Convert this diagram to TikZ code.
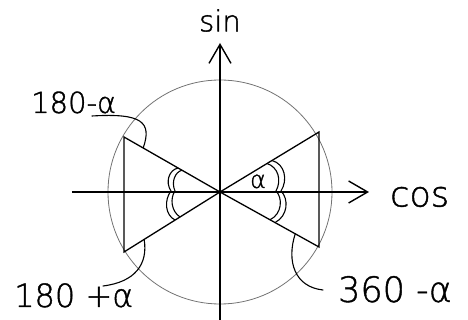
\documentclass[tikz,border=0pt]{standalone}
\usepackage{fontspec}
\setmainfont{DejaVu Sans ExtraLight}[FakeBold=1.2]
\usetikzlibrary{positioning,calc,arrows.meta}
\tikzset{
axisline/.style={line width=1.4pt,-{Straight Barb[length=19pt,width=22pt]}},
unitcircle/.style={draw=black!55,line width=0.8pt},
tri/.style={line width=1.3pt,line join=miter},
anglemark/.style={line width=1.1pt},
pointer/.style={line width=1.1pt,line cap=round},
biglbl/.style={inner sep=1pt,font=\fontsize{35}{37}\selectfont},
midlbl/.style={inner sep=1pt,font=\fontsize{29}{31}\selectfont},
smalllbl/.style={inner sep=1pt,font=\fontsize{24}{26}\selectfont}
}
\begin{document}
\begin{tikzpicture}[x=1pt,y=1pt]
\useasboundingbox (-220,-128) rectangle (248,192);
\coordinate (o) at (0,0);
\coordinate (w) at (-148,0);
\coordinate (e) at (149,0);
\coordinate (s) at (0,-128);
\coordinate (n) at (0,149);
\coordinate (ru) at (99,60);
\coordinate (rd) at (99,-55);
\coordinate (lu) at (-96,55);
\coordinate (ld) at (-96,-60);
\draw[unitcircle] (o) circle (112pt);
\draw[axisline] (w) -- (e);
\draw[axisline] (s) -- (n);
\draw[tri] (o) -- (ru) -- (rd) -- cycle;
\draw[tri] (o) -- (lu) -- (ld) -- cycle;
\draw[anglemark] (47,28.5) .. controls (58,25) and (62,12) .. (56,1) .. controls (63,-6) and (62,-22) .. (50,-27.8);
\draw[anglemark] (52,31.5) .. controls (65,28) and (68,12) .. (61,1) .. controls (69,-7) and (68,-24) .. (55,-30.6);
\draw[anglemark] (-38,21.8) .. controls (-45,20) and (-49,10) .. (-45,1) .. controls (-50,-6) and (-49,-19) .. (-40,-25);
\draw[anglemark] (-42,24) .. controls (-51,22) and (-55,10) .. (-49,1) .. controls (-56,-8) and (-55,-23) .. (-45,-28);
\node[smalllbl,anchor=base] (alpha) at (38,4) {α};
\node[midlbl,above=10pt of n] (sin) {sin};
\node[biglbl,right=20pt of e,yshift=-5pt] (cos) {cos};
\node[midlbl,anchor=base west] (lpos) at (-190,79) {180-α};
\node[biglbl,font=\fontsize{32}{34}\selectfont,anchor=base west] (lneg) at (-207,-115) {180 +α};
\node[biglbl,anchor=base west] (rneg) at (117,-110) {360 -α};
\coordinate (lposend) at ($(o)!0.8!(lu)$);
\coordinate (lnegend) at ($(o)!0.79!(ld)$);
\coordinate (rnegend) at ($(o)!0.76!(rd)$);
\draw[pointer] ([xshift=62pt,yshift=-3pt]lpos.base west) .. controls +(50,3) and +(9,26) .. (lposend);
\draw[pointer] ([xshift=90pt,yshift=21pt]lneg.base west) .. controls +(32,4) and +(4,-25) .. (lnegend);
\draw[pointer] ([xshift=-14pt,yshift=12pt]rneg.base west) .. controls +(-28,3) and +(-9,-28) .. (rnegend);
\end{tikzpicture}
\end{document}
